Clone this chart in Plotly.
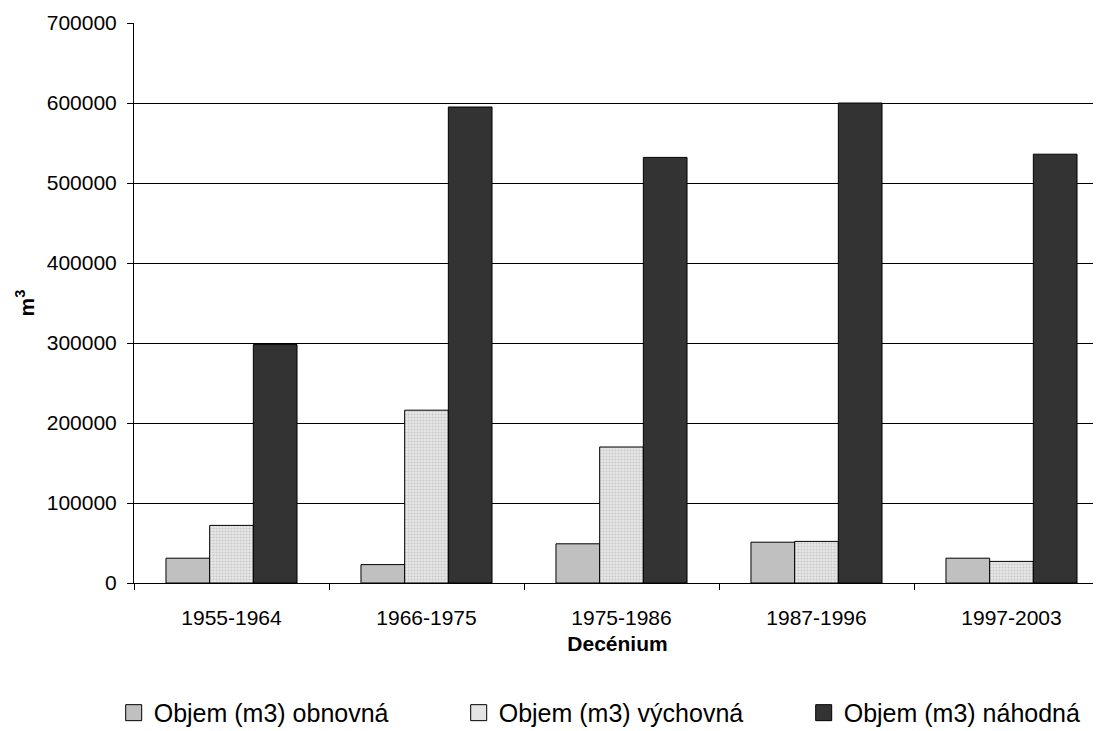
import plotly.graph_objects as go

categories = ["1955-1964", "1966-1975", "1975-1986", "1987-1996", "1997-2003"]
obnovna = [31000, 23000, 49000, 51000, 31000]
vychovna = [72000, 216000, 170000, 52000, 27000]
nahodna = [298000, 595000, 532000, 600000, 536000]
series_names = ["Objem (m3) obnovná", "Objem (m3) výchovná", "Objem (m3) náhodná"]
y_ticks = [0, 100000, 200000, 300000, 400000, 500000, 600000, 700000]

FONT = "Liberation Sans, Arial, sans-serif"

fig = go.Figure()
fig.add_trace(go.Bar(x=categories, y=obnovna, name=series_names[0], showlegend=False,
                     marker=dict(color="#c0c0c0", line=dict(color="#000000", width=1))))
fig.add_trace(go.Bar(x=categories, y=vychovna, name=series_names[1], showlegend=False,
                     marker=dict(color="#e4e4e4", line=dict(color="#000000", width=1),
                                 pattern=dict(shape=".", fgcolor="#a8a8a8", bgcolor="#e8e8e8",
                                              size=3, solidity=0.4))))
fig.add_trace(go.Bar(x=categories, y=nahodna, name=series_names[2], showlegend=False,
                     marker=dict(color="#333333", line=dict(color="#000000", width=1))))

# legend entries
leg_colors = ["#c0c0c0", "#e4e4e4", "#333333"]
for nm, c in zip(series_names, leg_colors):
    fig.add_trace(go.Scatter(x=[None], y=[None], mode="markers", name=nm,
                             marker=dict(symbol="square", size=18, color=c,
                                         line=dict(color="#000000", width=1))))

# the page body has an 8px margin; margins compensate for it
fig.update_layout(
    width=1101, height=731,
    margin=dict(l=126, r=8, t=15, b=156, autoexpand=False),
    paper_bgcolor="white", plot_bgcolor="white",
    font=dict(family=FONT, size=21, color="#000000"),
    barmode="group", bargap=0.328, bargroupgap=0,
    showlegend=True,
    legend=dict(orientation="h", x=-0.021, xanchor="left", y=-0.232, yanchor="middle",
                font=dict(size=25, family=FONT), entrywidth=300, entrywidthmode="pixels",
                itemsizing="trace", tracegroupgap=0, bgcolor="rgba(0,0,0,0)"),
    xaxis=dict(
        range=[-0.5, 4.459], type="category",
        showline=True, linecolor="#000000", linewidth=1,
        ticks="outside", ticklen=6, tickcolor="#000000", tickson="boundaries",
        tickfont=dict(size=21, family=FONT), ticklabelstandoff=16,
        title=dict(text="<b>Decénium</b>", font=dict(size=21, family=FONT), standoff=8),
        showgrid=False,
    ),
    yaxis=dict(
        range=[0, 700000], tickvals=y_ticks, ticktext=[str(v) for v in y_ticks],
        showline=True, linecolor="#000000", linewidth=1,
        ticks="outside", ticklen=6, tickcolor="#000000", ticklabelstandoff=6,
        showgrid=True, gridcolor="#000000", gridwidth=1,
        zeroline=False,
        tickfont=dict(size=21, family=FONT),
        title=dict(text="<b>m<sup>3</sup></b>", font=dict(size=21, family=FONT), standoff=6),
    ),
)

fig.write_html("out.html")
